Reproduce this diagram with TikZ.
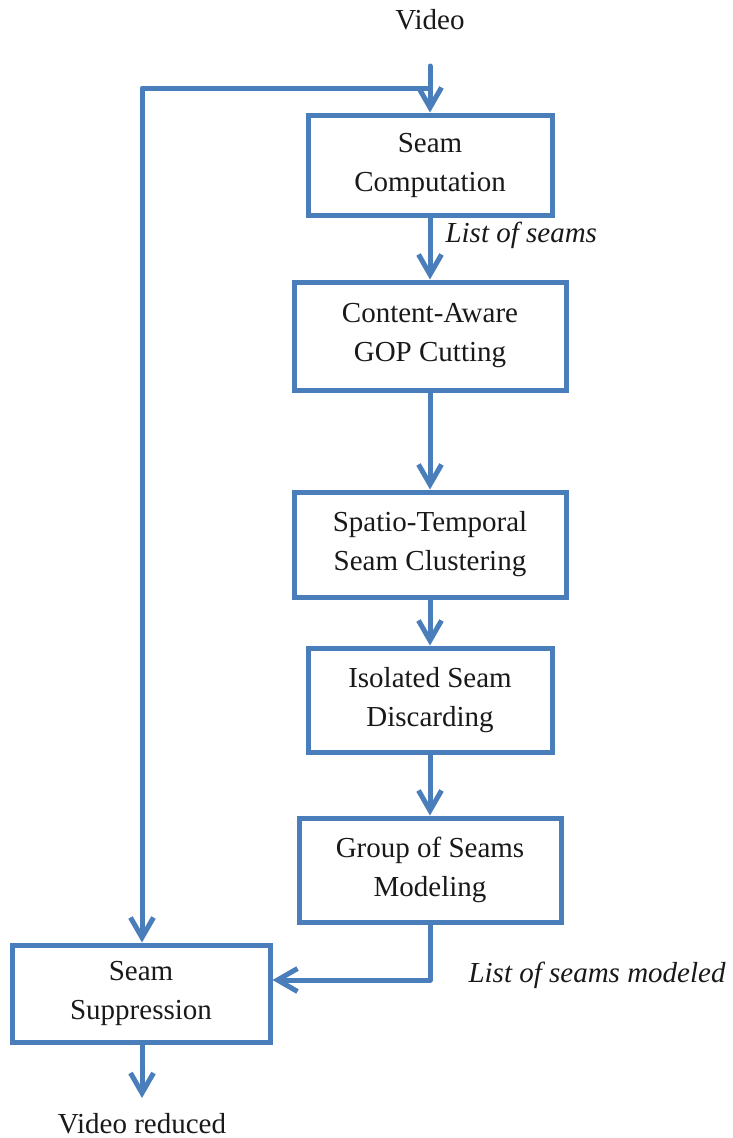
\documentclass[tikz,border=0pt]{standalone}
\usepackage{fontspec}
\setmainfont{Liberation Serif}
\usetikzlibrary{arrows.meta}
\definecolor{flowblue}{RGB}{74,126,187}
\begin{document}
\begin{tikzpicture}[x=1pt,y=-1pt,
  stepbox/.style={draw=flowblue, line width=5pt, align=center, inner sep=0pt,
    font=\fontsize{29}{39}\selectfont, text=black!90},
  flow/.style={draw=flowblue, line width=5pt, line cap=round, line join=round,
    -{Straight Barb[length=20pt,width=23pt,line width=5pt]}},
  lbl/.style={font=\fontsize{29}{39}\selectfont, text=black!90},
  note/.style={font=\fontsize{29}{39}\selectfont\itshape, text=black!90}]
\useasboundingbox (0,0) rectangle (732,1138);

\node[stepbox, minimum width=244pt, minimum height=100pt] (comp) at (430,165) {Seam\\Computation};
\node[stepbox, minimum width=272pt, minimum height=108pt] (gop) at (430,336) {Content-Aware\\GOP Cutting};
\node[stepbox, minimum width=272pt, minimum height=105pt] (clus) at (430,544.5) {Spatio-Temporal\\Seam Clustering};
\node[stepbox, minimum width=244pt, minimum height=104pt] (disc) at (430,700) {Isolated Seam\\Discarding};
\node[stepbox, minimum width=262pt, minimum height=104pt] (model) at (430,870) {Group of Seams\\Modeling};
\node[stepbox, minimum width=258pt, minimum height=97pt] (supp) at (141,993.5) {Seam\\Suppression};

\node[lbl] (vin) at (430,20) {Video};
\node[lbl] (vout) at (142,1124) {Video reduced};
\node[note, anchor=west] (ls) at (442,235) {List of seams};
\node[note, anchor=west] (lsm) at (465,975) {List of seams modeled};

\coordinate (top) at (430,66);
\coordinate (loop) at (430,88);
\coordinate (corner) at (142,88);
\coordinate (mout) at (430,980);
\coordinate (vend) at (142,1098);

\draw[flow] (top) -- (comp.north);
\draw[flow] (comp.south) -- (gop.north);
\draw[flow] (gop.south) -- (clus.north);
\draw[flow] (clus.south) -- (disc.north);
\draw[flow] (disc.south) -- (model.north);
\draw[flow] (loop) -- (corner) -- (supp.north -| corner);
\draw[flow] (model.south -| mout) -- (mout) -- (mout -| supp.east);
\draw[flow] (supp.south -| vend) -- (vend);
\end{tikzpicture}
\end{document}
